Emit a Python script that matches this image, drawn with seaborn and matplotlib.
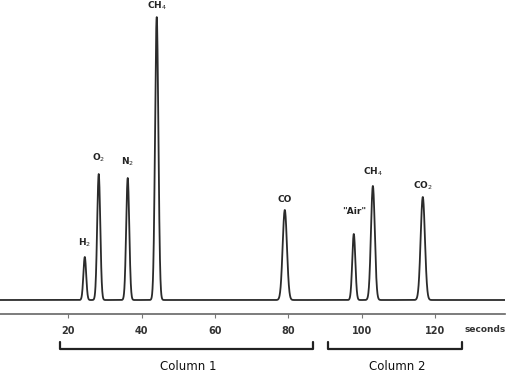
import matplotlib
matplotlib.use("Agg")
import matplotlib.pyplot as plt
import numpy as np
import pandas as pd
import seaborn as sns

# peak retention times (s), heights (arbitrary units), widths (sigma, s)
peak_names = ["H$_2$", "O$_2$", "N$_2$", "CH$_4$", "CO", '"Air"', "CH$_4$", "CO$_2$"]
peak_times = [24.5, 28.3, 36.2, 44.1, 79.0, 97.8, 103.0, 116.6]
peak_heights = [43, 126, 122, 283, 90, 66, 114, 103]
peak_widths = [0.38, 0.42, 0.42, 0.45, 0.58, 0.42, 0.52, 0.58]

tick_values = [20, 40, 60, 80, 100, 120]
column_labels = ["Column 1", "Column 2"]
column_spans = [(17.8, 86.8), (90.8, 127.4)]

time = np.linspace(0, 140, 4000)
signal = np.zeros_like(time)
for t0, h, w in zip(peak_times, peak_heights, peak_widths):
    signal += h * np.exp(-0.5 * ((time - t0) / w) ** 2)
trace = pd.DataFrame({"time": time, "signal": signal})

sns.set_theme(style="white")
plt.rcParams["font.family"] = ["DejaVu Sans"]

fig = plt.figure(figsize=(5.08, 3.74), dpi=100)
ax = fig.add_axes([0, 60 / 374, 505 / 508, 314 / 374])
sns.lineplot(data=trace, x="time", y="signal", color="#2b2b2b", linewidth=1.3, ax=ax)

ax.set_xlim(1.4, 139.0)
ax.set_ylim(-14, 300)
ax.set_xlabel("")
ax.set_ylabel("")
ax.set_yticks([])
ax.set_xticks(tick_values)
ax.set_xticklabels([str(v) for v in tick_values], fontsize=7, fontweight="bold", color="#333333")
ax.tick_params(axis="x", direction="out", length=3, width=0.8, color="#777777", pad=6, bottom=True)
for side in ["left", "top", "right"]:
    ax.spines[side].set_visible(False)
ax.spines["bottom"].set_color("#666666")
ax.spines["bottom"].set_linewidth(1.2)

ax.text(133.5, -30, "seconds", fontsize=6.5, fontweight="bold", color="#333333", ha="center", va="center", clip_on=False)

# peak labels (gap above each apex, in plot units)
label_gaps = [14, 16, 16, 11, 10, 22, 14, 11]
for name, t0, h, gap in zip(peak_names, peak_times, peak_heights, label_gaps):
    ax.text(t0, h + gap, name, fontsize=6.5, fontweight="bold", color="#222222",
            ha="center", va="center", clip_on=False)

# column brackets
for label, (x0, x1) in zip(column_labels, column_spans):
    ax.plot([x0, x0, x1, x1], [-42, -49, -49, -42], color="#222222", linewidth=1.6, clip_on=False)
    ax.text((x0 + x1) / 2 + 0.5, -66, label, fontsize=8.5, color="#111111", ha="center", va="center", clip_on=False)

fig.savefig("out.png", dpi=100)
